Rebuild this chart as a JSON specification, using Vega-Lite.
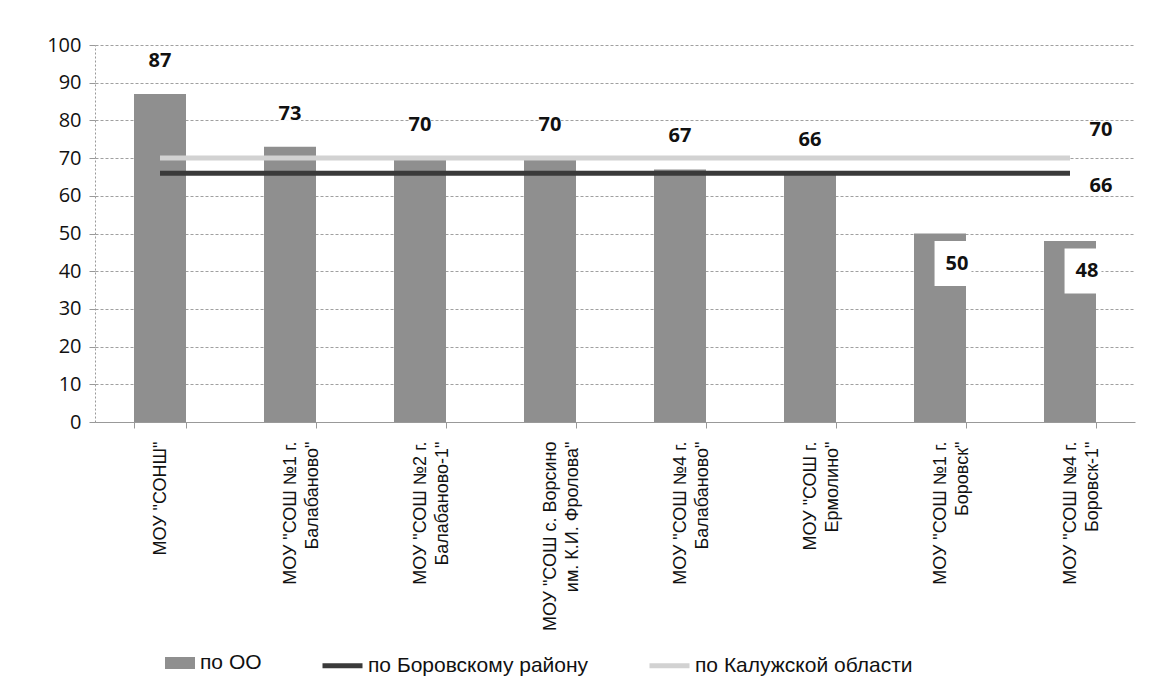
{
  "$schema": "https://vega.github.io/schema/vega-lite/v6.json",
  "width": 1040,
  "height": 377,
  "autosize": {"type": "none"},
  "padding": {"left": 95, "top": 45, "right": 18, "bottom": 277},
  "background": "white",
  "config": {"view": {"stroke": null}, "font": "Liberation Sans"},
  "datasets": {
    "main": [
      {"school": "МОУ \"СОНШ\"", "series": "по ОО", "value": 87},
      {"school": "МОУ \"СОШ №1 г.|Балабаново\"", "series": "по ОО", "value": 73},
      {"school": "МОУ \"СОШ №2 г.|Балабаново-1\"", "series": "по ОО", "value": 70},
      {"school": "МОУ \"СОШ с. Ворсино|им. К.И. Фролова\"", "series": "по ОО", "value": 70},
      {"school": "МОУ \"СОШ №4 г.|Балабаново\"", "series": "по ОО", "value": 67},
      {"school": "МОУ \"СОШ г.|Ермолино\"", "series": "по ОО", "value": 66},
      {"school": "МОУ \"СОШ №1 г.|Боровск\"", "series": "по ОО", "value": 50},
      {"school": "МОУ \"СОШ №4 г.|Боровск-1\"", "series": "по ОО", "value": 48},
      {"school": "МОУ \"СОНШ\"", "series": "по Боровскому району", "value": 66},
      {"school": "МОУ \"СОШ №1 г.|Балабаново\"", "series": "по Боровскому району", "value": 66},
      {"school": "МОУ \"СОШ №2 г.|Балабаново-1\"", "series": "по Боровскому району", "value": 66},
      {"school": "МОУ \"СОШ с. Ворсино|им. К.И. Фролова\"", "series": "по Боровскому району", "value": 66},
      {"school": "МОУ \"СОШ №4 г.|Балабаново\"", "series": "по Боровскому району", "value": 66},
      {"school": "МОУ \"СОШ г.|Ермолино\"", "series": "по Боровскому району", "value": 66},
      {"school": "МОУ \"СОШ №1 г.|Боровск\"", "series": "по Боровскому району", "value": 66},
      {"school": "МОУ \"СОШ №4 г.|Боровск-1\"", "series": "по Боровскому району", "value": 66},
      {"school": "МОУ \"СОНШ\"", "series": "по Калужской области", "value": 70},
      {"school": "МОУ \"СОШ №1 г.|Балабаново\"", "series": "по Калужской области", "value": 70},
      {"school": "МОУ \"СОШ №2 г.|Балабаново-1\"", "series": "по Калужской области", "value": 70},
      {"school": "МОУ \"СОШ с. Ворсино|им. К.И. Фролова\"", "series": "по Калужской области", "value": 70},
      {"school": "МОУ \"СОШ №4 г.|Балабаново\"", "series": "по Калужской области", "value": 70},
      {"school": "МОУ \"СОШ г.|Ермолино\"", "series": "по Калужской области", "value": 70},
      {"school": "МОУ \"СОШ №1 г.|Боровск\"", "series": "по Калужской области", "value": 70},
      {"school": "МОУ \"СОШ №4 г.|Боровск-1\"", "series": "по Калужской области", "value": 70}
    ]
  },
  "data": {"name": "main"},
  "encoding": {
    "x": {
      "field": "school", "type": "nominal", "sort": null,
      "scale": {"paddingInner": 0.6, "paddingOuter": 0.3},
      "axis": {
        "title": null, "labelAngle": -90, "labelExpr": "split(datum.label, '|')",
        "labelFont": "Liberation Sans", "labelFontSize": 18, "labelLineHeight": 22,
        "labelAlign": "right", "labelBaseline": "middle", "labelPadding": 13, "labelLimit": 300,
        "labelColor": "#111", "tickBand": "extent", "tickSize": 6, "tickColor": "#999",
        "domainColor": "#999"
      }
    },
    "y": {
      "field": "value", "type": "quantitative",
      "scale": {"domain": [0, 100]},
      "axis": {
        "title": null, "values": [0, 10, 20, 30, 40, 50, 60, 70, 80, 90, 100],
        "grid": true, "gridColor": "#a0a0a0", "gridDash": [3, 2], "gridWidth": 1,
        "domainColor": "#999", "domainDash": [2, 2], "tickColor": "#999", "tickSize": 6,
        "labelFont": "Open Sans", "labelFontSize": 20, "labelColor": "#111", "labelPadding": 8
      }
    }
  },
  "layer": [
    {
      "transform": [{"filter": "datum.series === 'по ОО'"}],
      "mark": {"type": "bar", "opacity": 1},
      "encoding": {
        "fill": {
          "field": "series", "type": "nominal",
          "scale": {"domain": ["по ОО"], "range": ["#8f8f8f"]},
          "legend": {
            "orient": "none", "legendX": 70, "legendY": 603, "direction": "horizontal",
            "title": null, "symbolType": "M-1,-0.4H1V0.4H-1Z", "symbolSize": 900,
            "symbolStrokeWidth": 0,
            "labelFont": "Liberation Sans", "labelFontSize": 21, "labelLimit": 400,
            "labelColor": "#111", "labelOffset": 5, "padding": 0
          }
        }
      }
    },
    {
      "transform": [{"filter": "datum.series !== 'по ОО'"}],
      "mark": {"type": "line", "strokeWidth": 5},
      "encoding": {
        "stroke": {
          "field": "series", "type": "nominal",
          "scale": {"domain": ["по Боровскому району", "по Калужской области"], "range": ["#3a3a3a", "#d2d2d2"]},
          "legend": {
            "orient": "none", "legendX": 225, "legendY": 598, "direction": "horizontal",
            "title": null, "symbolType": "stroke", "symbolSize": 1600, "symbolStrokeWidth": 5,
            "labelFont": "Liberation Sans", "labelFontSize": 21, "labelLimit": 400,
            "labelColor": "#111", "labelOffset": 3, "columnPadding": 50, "padding": 0
          }
        }
      }
    },
    {
      "transform": [{"filter": "datum.series === 'по ОО' && datum.value > 55"}],
      "mark": {"type": "point", "shape": "M-1,-0.65H1V0.65H-1Z", "size": 484, "filled": true, "color": "white", "opacity": 1, "yOffset": -33}
    },
    {
      "transform": [{"filter": "datum.series === 'по ОО' && datum.value > 55"}],
      "mark": {"type": "text", "font": "Open Sans", "fontWeight": "bold", "fontSize": 20, "color": "#111", "baseline": "middle", "yOffset": -33},
      "encoding": {"text": {"field": "value", "type": "quantitative"}}
    },
    {
      "transform": [{"filter": "datum.series === 'по ОО' && datum.value <= 55"}],
      "mark": {"type": "point", "shape": "M-0.82,-1H0.82V1H-0.82Z", "size": 2025, "filled": true, "color": "white", "opacity": 1, "xOffset": 13, "yOffset": 30}
    },
    {
      "transform": [{"filter": "datum.series === 'по ОО' && datum.value <= 55"}],
      "mark": {"type": "text", "font": "Open Sans", "fontWeight": "bold", "fontSize": 20, "color": "#111", "baseline": "middle", "xOffset": 17, "yOffset": 30},
      "encoding": {"text": {"field": "value", "type": "quantitative"}}
    },
    {
      "transform": [{"filter": "datum.school === 'МОУ \"СОШ №4 г.|Боровск-1\"' && datum.series !== 'по ОО'"}],
      "mark": {"type": "point", "shape": "M-1,-0.65H1V0.65H-1Z", "size": 484, "filled": true, "color": "white", "opacity": 1, "xOffset": 31, "yOffset": {"expr": "datum.series === 'по Калужской области' ? -28 : 13"}}
    },
    {
      "transform": [{"filter": "datum.school === 'МОУ \"СОШ №4 г.|Боровск-1\"' && datum.series === 'по Калужской области'"}],
      "mark": {"type": "text", "font": "Open Sans", "fontWeight": "bold", "fontSize": 20, "color": "#111", "baseline": "middle", "xOffset": 31, "yOffset": -28},
      "encoding": {"text": {"field": "value", "type": "quantitative"}}
    },
    {
      "transform": [{"filter": "datum.school === 'МОУ \"СОШ №4 г.|Боровск-1\"' && datum.series === 'по Боровскому району'"}],
      "mark": {"type": "text", "font": "Open Sans", "fontWeight": "bold", "fontSize": 20, "color": "#111", "baseline": "middle", "xOffset": 31, "yOffset": 13},
      "encoding": {"text": {"field": "value", "type": "quantitative"}}
    }
  ]
}
